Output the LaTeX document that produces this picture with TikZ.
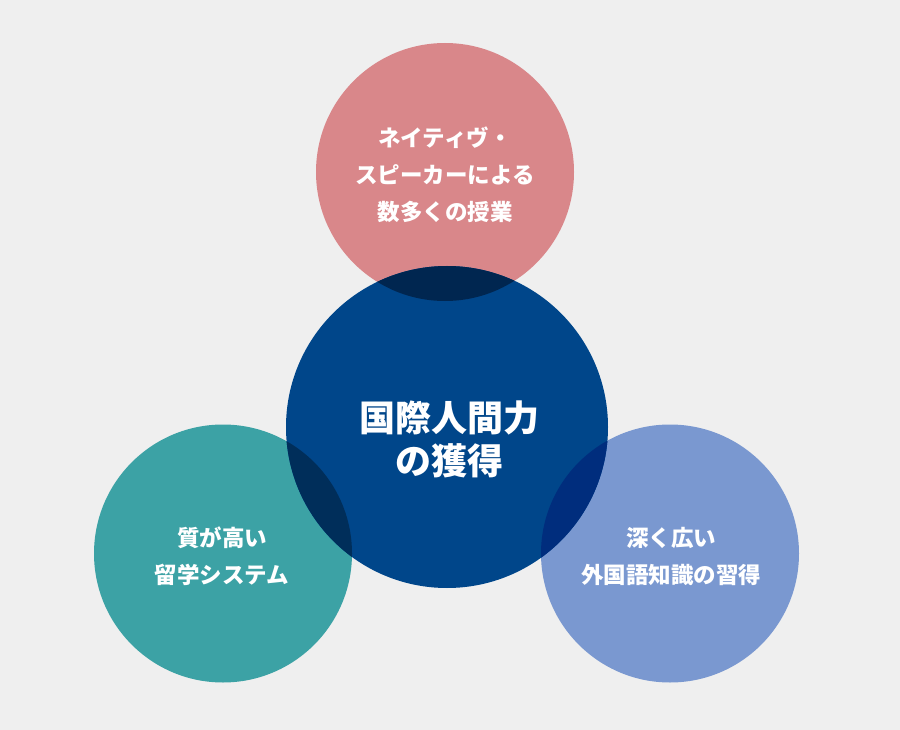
\documentclass[tikz,border=0pt]{standalone}
\usepackage{fontspec}
\newfontfamily\jp{Noto Sans CJK JP}
\definecolor{bg}{RGB}{239,239,239}
\definecolor{cpink}{RGB}{217,135,138}
\definecolor{cnavy}{RGB}{0,70,138}
\definecolor{cteal}{RGB}{60,162,165}
\definecolor{cblue}{RGB}{122,152,208}
\definecolor{otop}{RGB}{0,38,80}
\definecolor{oleft}{RGB}{0,46,90}
\definecolor{oright}{RGB}{0,45,125}
\tikzset{
  lbl/.style={text=white, align=center, inner sep=0pt, font=\jp\bfseries\fontsize{22.5}{37}\selectfont},
  mainlbl/.style={text=white, align=center, inner sep=0pt, font=\jp\bfseries\fontsize{36}{43}\selectfont},
}
\begin{document}
\begin{tikzpicture}[x=1pt,y=-1pt]
\fill[bg] (0,0) rectangle (900,730);
\useasboundingbox (0,0) rectangle (900,730);
\coordinate (ct) at (445,172);
\coordinate (cl) at (223,553.5);
\coordinate (cr) at (670,553.5);
\coordinate (cc) at (447,427);
\fill[cpink] (ct) circle[radius=129];
\fill[cteal] (cl) circle[radius=129];
\fill[cblue] (cr) circle[radius=129];
\fill[cnavy] (cc) circle[radius=161];
\begin{scope}
  \clip (cc) circle[radius=161];
  \fill[otop] (ct) circle[radius=129];
  \fill[oleft] (cl) circle[radius=129];
  \fill[oright] (cr) circle[radius=129];
\end{scope}
\node[lbl] (ttop) at (445,175) {ネイティヴ・\\スピーカーによる\\数多くの授業};
\node[lbl] (tleft) at (222,556) {質が高い\\留学システム};
\node[lbl] (tright) at (671,556) {深く広い\\外国語知識の習得};
\node[mainlbl] (tmain) at (449,439) {国際人間力\\の獲得};
\end{tikzpicture}
\end{document}
